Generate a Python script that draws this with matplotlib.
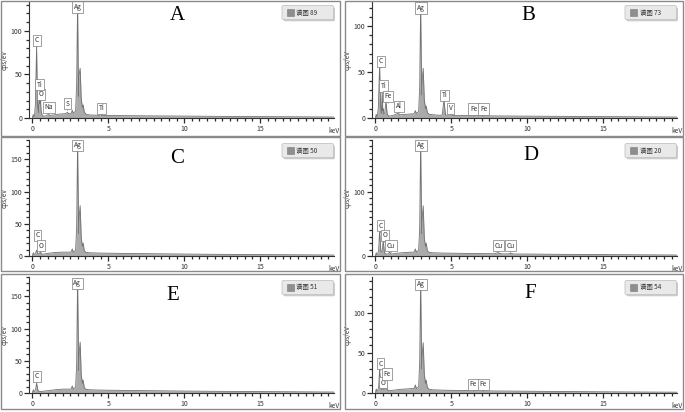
import matplotlib
matplotlib.use("Agg")
import matplotlib.pyplot as plt
from matplotlib.patches import Rectangle, FancyBboxPatch
from matplotlib.ticker import MultipleLocator

plt.rcParams['font.family'] = ['Noto Sans CJK SC', 'DejaVu Sans']

W, H = 685, 412

# ---------------- data ----------------
a_keV = [0.00, 0.06, 0.10, 0.14, 0.20, 0.28, 0.34, 0.40, 0.45, 0.49, 0.53, 0.58, 0.65, 0.75, 0.90, 1.04, 1.15, 1.40, 1.80, 2.20,
         2.31, 2.40, 2.55, 2.63, 2.70, 2.85, 2.92, 2.98, 3.04, 3.08, 3.15, 3.22, 3.30, 3.35, 3.42, 3.55, 3.80, 4.20, 4.45, 4.51,
         4.58, 5.00, 6.00, 8.00, 10.0, 12.0, 15.0, 18.0, 19.9]
a_cps = [0, 4, 1, 2, 15, 82, 18, 6, 31, 16, 22, 8, 3, 2, 2.5, 4, 3, 3.5, 4.5, 5,
         6.5, 5, 5, 9, 5.5, 8, 40, 132, 25, 50, 57, 22, 12, 15, 7, 4, 3.5, 3.2, 3, 4.5,
         3, 2.9, 2.7, 2.4, 2.2, 1.9, 1.6, 1.3, 1.1]

b_keV = [0.00, 0.06, 0.10, 0.14, 0.20, 0.28, 0.34, 0.40, 0.45, 0.49, 0.51, 0.56, 0.62, 0.70, 0.78, 0.90, 1.20, 1.49, 1.60, 2.00,
         2.40, 2.55, 2.63, 2.70, 2.85, 2.92, 2.98, 3.05, 3.10, 3.15, 3.22, 3.30, 3.35, 3.42, 3.55, 3.80, 4.20, 4.40, 4.51, 4.62,
         4.80, 4.95, 5.10, 6.00, 6.40, 6.80, 7.06, 7.50, 10.0, 12.0, 15.0, 18.0, 19.9]
b_cps = [0, 4, 1, 2, 12, 58, 15, 5, 30, 8, 10, 4, 6, 18, 4, 2, 3, 5, 3.5, 4,
         4.5, 4.5, 8, 5, 7, 35, 124, 25, 45, 54, 20, 10, 13, 6, 4, 3.5, 3, 3.2, 19, 3.2,
         3, 5.5, 2.8, 2.6, 3.2, 2.4, 2.8, 2.3, 2.0, 1.8, 1.5, 1.2, 1.0]

c_keV = [0.00, 0.06, 0.10, 0.16, 0.22, 0.28, 0.36, 0.44, 0.52, 0.60, 0.75, 1.00, 1.50, 2.00, 2.40, 2.55, 2.63, 2.70, 2.85, 2.92,
         2.98, 3.05, 3.10, 3.15, 3.22, 3.30, 3.35, 3.42, 3.55, 3.80, 4.50, 6.00, 8.00, 10.0, 12.0, 15.0, 18.0, 19.9]
c_cps = [0, 5, 2, 3, 5, 9, 4, 3, 6, 3, 3, 4, 5.5, 6, 6, 6, 11, 6, 9, 45,
         178, 35, 65, 78, 28, 15, 20, 8, 5.5, 5, 4.5, 4, 3.5, 3, 2.6, 2.2, 1.8, 1.5]

d_keV = [0.00, 0.06, 0.10, 0.16, 0.22, 0.28, 0.36, 0.44, 0.52, 0.60, 0.70, 0.85, 0.93, 1.02, 1.20, 1.50, 2.00, 2.40, 2.55, 2.63,
         2.70, 2.85, 2.92, 2.98, 3.05, 3.10, 3.15, 3.22, 3.30, 3.35, 3.42, 3.55, 3.80, 4.50, 6.00, 7.80, 8.04, 8.30, 8.70, 8.90,
         9.10, 10.0, 12.0, 15.0, 18.0, 19.9]
d_cps = [0, 5, 2, 3, 10, 40, 8, 6, 24, 5, 3, 3, 6, 3, 3.5, 4.5, 5.5, 6, 6, 11,
         6, 9, 45, 178, 35, 65, 78, 28, 15, 20, 8, 5.5, 5, 4.5, 4, 3.5, 5, 3.3, 3.2, 4,
         3.1, 3, 2.6, 2.2, 1.8, 1.5]

e_keV = [0.00, 0.06, 0.10, 0.16, 0.22, 0.28, 0.36, 0.44, 0.60, 0.80, 1.00, 1.50, 2.00, 2.40, 2.55, 2.63, 2.70, 2.85, 2.92, 2.98,
         3.05, 3.10, 3.15, 3.22, 3.30, 3.35, 3.42, 3.55, 3.80, 4.50, 6.00, 8.00, 10.0, 12.0, 15.0, 18.0, 19.9]
e_cps = [0, 5, 2, 3, 6, 15, 5, 2, 2.5, 3, 3.5, 5, 6, 6, 6, 11, 6, 9, 45, 178,
         35, 66, 79, 28, 15, 20, 8, 5.5, 5, 4.5, 4, 3.5, 3, 2.6, 2.2, 1.8, 1.5]

f_keV = [0.00, 0.06, 0.10, 0.16, 0.22, 0.28, 0.36, 0.44, 0.52, 0.60, 0.70, 0.78, 0.90, 1.20, 1.60, 2.00, 2.40, 2.55, 2.63, 2.70,
         2.85, 2.92, 2.98, 3.05, 3.10, 3.15, 3.22, 3.30, 3.35, 3.42, 3.55, 3.80, 4.50, 6.00, 6.40, 6.70, 7.06, 7.40, 10.0, 12.0,
         15.0, 18.0, 19.9]
f_cps = [0, 5, 2, 3, 8, 30, 6, 4, 9, 5, 16, 4, 3, 3.5, 4.5, 5, 5.5, 5.5, 10, 5.5,
         8, 40, 140, 30, 52, 63, 24, 12, 16, 7, 4.5, 4, 3.5, 3, 4, 2.8, 3.3, 2.6, 2.2, 1.9,
         1.5, 1.2, 1.0]

# peak labels: element, box-centre energy, pointer tip height
a_lbl = ['Ag', 'C', 'O', 'Ti', 'Na', 'S', 'Ti']
a_lbl_keV = [3.0, 0.30, 0.57, 0.49, 1.10, 2.33, 4.58]
a_lbl_y = [119, 81, 19, 30, 4, 8.5, 3]

b_lbl = ['Ag', 'C', 'Ti', 'Fe', 'Al', 'Ti', 'V', 'Fe', 'Fe']
b_lbl_keV = [3.0, 0.37, 0.54, 0.84, 1.56, 4.54, 4.97, 6.46, 7.12]
b_lbl_y = [112, 54, 27, 16, 5, 17, 3, 2, 2]

c_lbl = ['Ag', 'C', 'O']
c_lbl_keV = [3.0, 0.34, 0.57]
c_lbl_y = [161, 21, 5]

d_lbl = ['Ag', 'C', 'O', 'Cu', 'Cu', 'Cu']
d_lbl_keV = [3.0, 0.35, 0.62, 1.04, 8.1, 8.9]
d_lbl_y = [161, 36, 21, 5, 5, 5]

e_lbl = ['Ag', 'C']
e_lbl_keV = [2.95, 0.30]
e_lbl_y = [159, 15]

f_lbl = ['Ag', 'C', 'O', 'Fe', 'Fe', 'Fe']
f_lbl_keV = [3.0, 0.35, 0.52, 0.77, 6.45, 7.1]
f_lbl_y = [127, 28, 4, 15, 2, 2]

panel_letters = ['A', 'B', 'C', 'D', 'E', 'F']
legend_texts = ['谱图 89', '谱图 73', '谱图 50', '谱图 20', '谱图 51', '谱图 54']
y_max = [133, 126, 180, 180, 180, 145]
y_major = [50, 50, 50, 100, 50, 50]

spectra = [(a_keV, a_cps), (b_keV, b_cps), (c_keV, c_cps), (d_keV, d_cps), (e_keV, e_cps), (f_keV, f_cps)]
labels = [(a_lbl, a_lbl_keV, a_lbl_y), (b_lbl, b_lbl_keV, b_lbl_y), (c_lbl, c_lbl_keV, c_lbl_y),
          (d_lbl, d_lbl_keV, d_lbl_y), (e_lbl, e_lbl_keV, e_lbl_y), (f_lbl, f_lbl_keV, f_lbl_y)]

# ---------------- layout (pixels) ----------------
col_axes = [(29.3, 334.0), (372.3, 677.3)]
row_axes = [(2.0, 118.0), (140.0, 256.0), (277.0, 393.0)]
col_box = [(1.0, 340.0), (345.0, 683.0)]
row_box = [(0.8, 135.5), (137.0, 271.0), (274.0, 409.0)]
letter_pos = [(177, 15), (528, 15), (177, 158), (531, 155), (173, 295), (530, 293)]
legend_x = [282.0, 625.0]
legend_y = [5.5, 143.5, 280.5]

fig = plt.figure(figsize=(W / 100, H / 100), dpi=100)
fig.patch.set_facecolor('white')


def fx(px):
    return px / W


def fy(py):
    return 1 - py / H


for i in range(6):
    r, c = divmod(i, 2)
    L, R = col_axes[c]
    T, B = row_axes[r]
    # panel frame
    bx0, bx1 = col_box[c]
    by0, by1 = row_box[r]
    fig.patches.append(Rectangle((fx(bx0), fy(by1)), fx(bx1 - bx0), (by1 - by0) / H,
                                 transform=fig.transFigure, fill=False, ec='#8a8a8a', lw=1.0))

    ax = fig.add_axes([fx(L), fy(B), fx(R - L), (B - T) / H])
    ax.set_facecolor('none')
    kev, cps = spectra[i]
    ax.fill_between(kev, cps, 0, color='#aaaaaa', lw=0)
    ax.plot(kev, cps, color='#707070', lw=0.6)
    ax.set_xlim(-0.2, 19.87)
    ax.set_ylim(0, y_max[i])
    for s in ['top', 'right']:
        ax.spines[s].set_visible(False)
    for s in ['left', 'bottom']:
        ax.spines[s].set_color('#333333')
        ax.spines[s].set_linewidth(0.8)
    ax.xaxis.set_major_locator(MultipleLocator(5))
    ax.xaxis.set_minor_locator(MultipleLocator(0.5))
    ax.yaxis.set_major_locator(MultipleLocator(y_major[i]))
    ax.yaxis.set_minor_locator(MultipleLocator(10))
    ax.tick_params(which='major', direction='out', length=3.6, width=0.9, color='#2a2a2a',
                   labelsize=5, labelcolor='#333333', pad=1.3)
    ax.tick_params(which='minor', direction='out', length=2.2, width=0.9, color='#2a2a2a')
    ax.set_ylabel('cps/eV', fontsize=4.6, color='#333333', labelpad=1.5)
    ax.text(1.0, -0.075, 'keV', transform=ax.transAxes, ha='center', va='top',
            fontsize=4.8, color='#333333')

    names, lk, ly = labels[i]
    for n, xk, yv in zip(names, lk, ly):
        ax.annotate(n, xy=(xk, yv), xytext=(0, 2.2), textcoords='offset points',
                    ha='center', va='bottom', fontsize=4.8, color='#333333',
                    bbox=dict(boxstyle='square,pad=0.25', fc='white', ec='#7a7a7a', lw=0.5),
                    arrowprops=dict(arrowstyle='-', lw=0.5, color='#7a7a7a', shrinkA=0, shrinkB=0),
                    annotation_clip=False, zorder=5)

    # legend box
    lx = legend_x[c]
    ly0 = legend_y[r]
    lw_, lh_ = 51.5, 14.0
    fig.patches.append(FancyBboxPatch((fx(lx + 1.5), fy(ly0 + lh_ + 1.8)), fx(lw_), lh_ / H,
                                      boxstyle='round,pad=0,rounding_size=0.003',
                                      transform=fig.transFigure, fc='#b5b5b5', ec='none', alpha=0.7))
    fig.patches.append(FancyBboxPatch((fx(lx), fy(ly0 + lh_)), fx(lw_), lh_ / H,
                                      boxstyle='round,pad=0,rounding_size=0.003',
                                      transform=fig.transFigure, fc='#e9e9e9', ec='#c4c4c4', lw=0.6))
    fig.patches.append(Rectangle((fx(lx + 4.5), fy(ly0 + 10.5)), fx(7), 7 / H,
                                 transform=fig.transFigure, fc='#8e8e8e', ec='#7a7a7a', lw=0.4))
    fig.text(fx(lx + 14.5), fy(ly0 + 7.0), legend_texts[i], ha='left', va='center',
             fontsize=4.6, color='#333333')

    # panel letter
    px, py = letter_pos[i]
    fig.text(fx(px), fy(py), panel_letters[i], ha='center', va='center',
             fontsize=15, family='Liberation Serif', color='black')

fig.savefig('out.png', dpi=100, facecolor='white')
